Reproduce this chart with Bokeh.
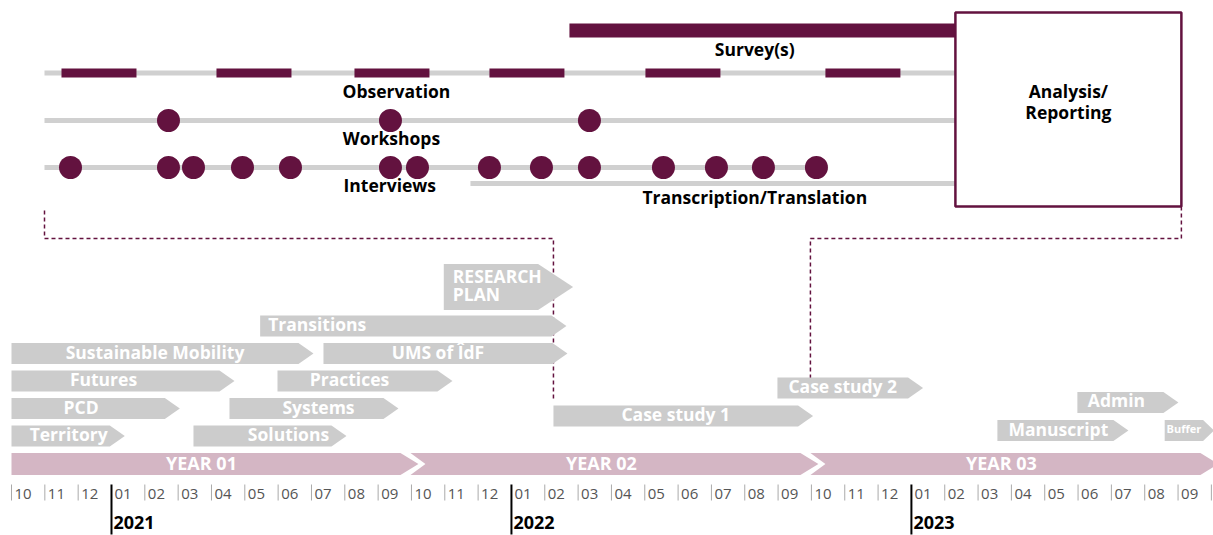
from bokeh.plotting import figure
from bokeh.models import Range1d
from bokeh.core.properties import value
from bokeh.embed import file_html
from bokeh.resources import INLINE

# ---------------- data (months counted from Oct 2020 = 0) ----------------
task_names = ["Territory", "PCD", "Futures", "Sustainable Mobility", "Solutions",
              "Systems", "Practices", "UMS of ÎdF", "Transitions", "RESEARCH PLAN",
              "Case study 1", "Case study 2", "Manuscript", "Admin", "Buffer"]
task_start = [0.0, 0.0, 0.0, 0.0, 5.46, 6.54, 7.98, 9.36, 7.46, 12.97,
              16.26, 22.98, 29.58, 31.98, 34.6]
task_end = [2.95, 4.6, 6.24, 8.61, 9.6, 11.16, 12.78, 16.23, 16.2, 15.8,
            23.6, 26.9, 33.06, 34.56, 35.75]
task_lane = [0, 1, 2, 3, 0, 1, 2, 3, 4, 5.42, 0.73, 1.75, 0.2, 1.22, 0.2]

year_names = ["YEAR 01", "YEAR 02", "YEAR 03"]
year_start = [0, 12, 24]
year_end = [12, 24, 36]
year_labels = ["2021", "2022", "2023"]
year_jan = [3, 15, 27]
month_labels = ["10", "11", "12", "01", "02", "03", "04", "05", "06", "07", "08", "09"] * 3

survey_period = [16.74, 28.32]
observation_start = [1.5, 6.15, 10.29, 14.34, 19.02, 24.42]
observation_end = [3.75, 8.4, 12.54, 16.59, 21.27, 26.67]
workshop_dates = [4.71, 11.37, 17.34]
interview_dates = [1.77, 4.71, 5.46, 6.93, 8.37, 11.37, 12.18, 14.34, 15.9,
                   17.34, 19.56, 21.15, 22.56, 24.15]
fieldwork_start = 0.99
interview_end = 24.5
transcription_period = [13.77, 28.32]
analysis_period = [28.32, 35.1]

# ---------------- styling / layout ----------------
PURPLE = "#63123F"
GRAY = "#CCCCCC"
LINE_GRAY = "#D0D0D0"
PINK = "#D4B6C4"
FONT = value("Open Sans")
W, H = 1213, 535
X0 = 11              # px of month 0
S = 33.33            # px per month
PX = 1.0 / S         # one pixel in months
# horizontal nudges (px) of some bar labels, as placed in the original layout
LABEL_NUDGE = {"Territory": 8, "PCD": -7, "Futures": -12, "Solutions": 26,
               "Systems": 12, "Practices": -8, "Admin": -4, "Manuscript": 3}

p = figure(width=W, height=H, x_range=Range1d(-X0 * PX, (W - X0) * PX),
           y_range=Range1d(H, 0), output_backend="svg", toolbar_location=None,
           x_axis_location=None, y_axis_location=None, min_border=0)
p.grid.visible = False
p.outline_line_color = None
p.background_fill_color = "white"
p.border_fill_color = "white"


def lane_y(lane):
    return 435.5 - 27.5 * lane


def chevron(x0, x1, yc, h, tip, notch=0.0):
    xs = [x0, x1, x1 + tip, x1, x0, x0 + notch]
    ys = [yc - h / 2, yc - h / 2, yc, yc + h / 2, yc + h / 2, yc]
    return xs, ys


# dashed connectors (under the bars)
p.line([fieldwork_start, fieldwork_start, task_start[10], task_start[10]],
       [210, 238, 238, 398], line_color=PURPLE, line_width=1.5, line_dash="4 3")
p.line([analysis_period[1], analysis_period[1], 23.97, 23.97],
       [206, 238, 238, 380], line_color=PURPLE, line_width=1.5, line_dash="4 3")

# ---------------- gray task chevrons ----------------
xs_all, ys_all = [], []
for name, s, e, ln in zip(task_names, task_start, task_end, task_lane):
    yc = lane_y(ln)
    if name == "RESEARCH PLAN":
        h, tip = 46, 35 * PX
    elif name == "Buffer":
        h, tip = 21, 11 * PX
    else:
        h, tip = 21, 15 * PX
    xs, ys = chevron(s, e, yc, h, tip)
    xs_all.append(xs)
    ys_all.append(ys)
p.patches(xs_all, ys_all, fill_color=GRAY, line_color=None)

for name, s, e, ln in zip(task_names, task_start, task_end, task_lane):
    yc = lane_y(ln) - 2
    if name == "RESEARCH PLAN":
        for k, word in enumerate(name.split(" ")):
            p.text([s + 9 * PX], [yc - 9 + 18.5 * k], text=[word], text_font=FONT,
                   text_font_style="bold", text_font_size="17.5px", text_color="white",
                   text_align="left", text_baseline="middle")
        continue
    if name == "Transitions":
        x, al = s + 8 * PX, "left"
    else:
        x, al = (s + e) / 2 + LABEL_NUDGE.get(name, 0) * PX, "center"
    size = "11px" if name == "Buffer" else "17.5px"
    p.text([x], [yc], text=[name], text_font=FONT, text_font_style="bold",
           text_font_size=size, text_color="white", text_align=al,
           text_baseline="middle")

# ---------------- year chevrons ----------------
yxs, yys = [], []
for i, (s, e) in enumerate(zip(year_start, year_end)):
    notch = 15 * PX if i > 0 else 0.0
    x0 = s - 1 * PX if i > 0 else s
    xs, ys = chevron(x0, e - 11 * PX, 463.5, 22, 18 * PX, notch)
    yxs.append(xs)
    yys.append(ys)
p.patches(yxs, yys, fill_color=PINK, line_color=None)
p.text([(s + e) / 2 - 10 * PX for s, e in zip(year_start, year_end)], [462] * 3,
       text=year_names, text_font=FONT, text_font_style="bold", text_font_size="18px",
       text_color="white", text_align="center", text_baseline="middle")

# ---------------- month axis ----------------
n_months = len(month_labels)
ticks = [m for m in range(n_months + 1) if m not in year_jan]
p.segment(x0=ticks, y0=[484] * len(ticks), x1=ticks, y1=[500] * len(ticks),
          line_color="#AAAAAA", line_width=1)
p.segment(x0=year_jan, y0=[484] * 3, x1=year_jan, y1=[534] * 3,
          line_color="black", line_width=2)
p.text([m + 3 * PX for m in range(n_months)], [493] * n_months, text=month_labels,
       text_font=FONT, text_font_size="15px", text_color="#555555",
       text_align="left", text_baseline="middle")
p.text([m + 2 * PX for m in year_jan], [522] * 3, text=year_labels, text_font=FONT,
       text_font_style="bold", text_font_size="18px", text_color="black",
       text_align="left", text_baseline="middle")

# ---------------- fieldwork schematic ----------------
line_end = analysis_period[0]
p.segment(x0=[fieldwork_start, fieldwork_start, fieldwork_start, transcription_period[0]],
          y0=[72.5, 120, 167, 183],
          x1=[line_end, line_end, interview_end, transcription_period[1]],
          y1=[72.5, 120, 167, 183], line_color=LINE_GRAY, line_width=5)
p.quad(left=[survey_period[0]], right=[survey_period[1]], top=[23], bottom=[37],
       fill_color=PURPLE, line_color=None)
p.quad(left=observation_start, right=observation_end, top=[68] * 6, bottom=[77] * 6,
       fill_color=PURPLE, line_color=None)
p.scatter(workshop_dates, [120] * len(workshop_dates), size=23, marker="circle",
          fill_color=PURPLE, line_color=None)
p.scatter(interview_dates, [167] * len(interview_dates), size=23, marker="circle",
          fill_color=PURPLE, line_color=None)

p.quad(left=[analysis_period[0]], right=[analysis_period[1]], top=[12], bottom=[206],
       fill_color="white", line_color=PURPLE, line_width=2.5)

top_txt_x = [22.3, 11.55, 11.4, 11.35, 22.3, (analysis_period[0] + analysis_period[1]) / 2,
             (analysis_period[0] + analysis_period[1]) / 2]
top_txt_y = [48, 90, 137, 184, 196, 90, 111]
top_txt = ["Survey(s)", "Observation", "Workshops", "Interviews",
           "Transcription/Translation", "Analysis/", "Reporting"]
p.text(top_txt_x, top_txt_y, text=top_txt, text_font=FONT, text_font_style="bold",
       text_font_size="17.5px", text_color="black", text_align="center",
       text_baseline="middle")

open("out.html", "w").write(file_html(p, INLINE))
